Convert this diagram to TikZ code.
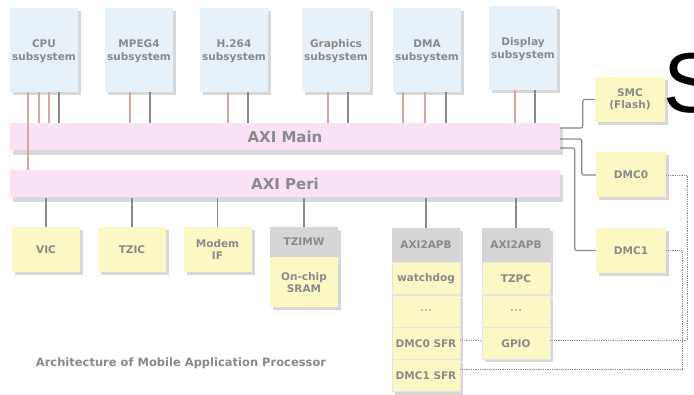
\documentclass[tikz,border=0pt]{standalone}
\usepackage{fontspec}
\setmainfont{DejaVu Sans}
\newfontfamily\bigfont{Liberation Sans}
\usetikzlibrary{positioning,shadows}

\definecolor{subblue}{HTML}{E6F1FA}
\definecolor{buspink}{HTML}{FAE2F6}
\definecolor{periyellow}{HTML}{FBF8C6}
\definecolor{bridgegray}{HTML}{D6D6D6}
\definecolor{labelgray}{HTML}{8A8A8A}
\definecolor{linkgray}{HTML}{8A8A8A}
\definecolor{linkred}{HTML}{DBA5A5}

% two-line subsystem label, set a little below the middle
\newcommand{\subtext}[1]{\mbox{}\\[-2pt]#1\\subsystem}

\tikzset{
  box/.style={minimum width=68pt, minimum height=45pt, inner sep=1pt, align=center,
    text=labelgray, font=\bfseries\fontsize{10.5}{12.5}\selectfont,
    drop shadow={shadow xshift=3pt, shadow yshift=-3pt, fill=black!60, opacity=0.25}},
  sub node/.style={box, fill=subblue, minimum height=84pt},
  peri node/.style={box, fill=periyellow},
  bridge node/.style={box, fill=bridgegray, minimum height=34pt},
  cell node/.style={box, fill=periyellow, draw=black!10, minimum height=32pt},
  bus node/.style={minimum width=550pt, minimum height=27pt, inner sep=0pt, fill=buspink,
    text=labelgray, font=\bfseries\fontsize{15}{17}\selectfont,
    drop shadow={shadow xshift=3pt, shadow yshift=-5pt, fill=black!60, opacity=0.25}},
  link/.style={draw=linkgray, line width=1.2pt},
  red link/.style={draw=linkred, line width=1.2pt},
  dot link/.style={draw=linkgray, densely dotted, line width=0.8pt},
}

\begin{document}
\begin{tikzpicture}[x=1pt,y=-1pt]
  \fill[white] (0,0) rectangle (694,395);
  \useasboundingbox (0,0) rectangle (694,395);

  % subsystems
  \node[sub node] (cpu)  at (44,50)  {\subtext{CPU}};
  \node[sub node] (mpeg) at (139,50) {\subtext{MPEG4}};
  \node[sub node] (h264) at (234,50) {\subtext{H.264}};
  \node[sub node] (gfx)  at (336,50) {\subtext{Graphics}};
  \node[sub node] (dma)  at (427,50) {\subtext{DMA}};
  \node[sub node] (disp) at (523,48) {\subtext{Display}};

  % buses
  \node[bus node] (axim) at (285,136.5) {AXI Main};
  \node[bus node] (axip) at (285,184)   {AXI Peri};

  % memory controllers
  \node[peri node, minimum width=70pt] (smc)  at (630,99.5)  {SMC\\(Flash)};
  \node[peri node, minimum width=70pt] (dmc0) at (631,175)   {DMC0};
  \node[peri node, minimum width=70pt] (dmc1) at (631,250.5) {DMC1};

  % peripherals
  \node[peri node] (vic)   at (46,249.5)    {VIC};
  \node[peri node] (tzic)  at (132,249.5)   {TZIC};
  \node[peri node] (modem) at (217.5,249.5) {Modem\\IF};
  \node[bridge node, minimum height=30pt] (tzimw) at (304,242) {TZIMW};
  \node[peri node, minimum height=50pt] (sram) [below=0pt of tzimw] {On-chip\\SRAM};

  \node[bridge node] (apb1) at (426,245) {AXI2APB};
  \node[cell node] (wdog)    [below=0pt of apb1] {watchdog};
  \node[cell node, text=black!30] (dots1) [below=0pt of wdog] {...};
  \node[cell node] (dmc0sfr) [below=0pt of dots1] {DMC0 SFR};
  \node[cell node] (dmc1sfr) [below=0pt of dmc0sfr] {DMC1 SFR};

  \node[bridge node] (apb2) at (516,245) {AXI2APB};
  \node[cell node] (tzpc)  [below=0pt of apb2] {TZPC};
  \node[cell node, text=black!30] (dots2) [below=0pt of tzpc] {...};
  \node[cell node] (gpio)  [below=0pt of dots2] {GPIO};

  % masters to AXI Main
  \foreach \n/\r/\g in {mpeg/-9/11, h264/-6/14, gfx/-8/12, disp/-8/12} {
    \draw[red link] ([xshift=\r pt]\n.south) -- ([xshift=\r pt]\n.south |- axim.north);
    \draw[link] ([xshift=\g pt]\n.south) -- ([xshift=\g pt]\n.south |- axim.north);
  }
  \foreach \r in {-5,5}
    \draw[red link] ([xshift=\r pt]cpu.south) -- ([xshift=\r pt]cpu.south |- axim.north);
  \draw[link] ([xshift=15pt]cpu.south) -- ([xshift=15pt]cpu.south |- axim.north);
  \draw[red link] ([xshift=-16pt]cpu.south) -- ([xshift=-16pt]cpu.south |- axip.north);
  \foreach \r in {-24,-2}
    \draw[red link] ([xshift=\r pt]dma.south) -- ([xshift=\r pt]dma.south |- axim.north);
  \draw[link] ([xshift=19pt]dma.south) -- ([xshift=19pt]dma.south |- axim.north);

  % AXI Main to memory controllers
  \draw[link, rounded corners=2pt] ([yshift=8.5pt]axim.east) -| ([xshift=-12pt]smc.west) -- (smc.west);
  \draw[link, rounded corners=2pt] ([yshift=-2.5pt]axim.east) -| ([xshift=-14pt]dmc0.west) -- (dmc0.west);
  \draw[link, rounded corners=2pt] ([yshift=-11.5pt]axim.east) -| ([xshift=-21pt]dmc1.west) -- (dmc1.west);

  % AXI Peri to slaves
  \foreach \n in {vic,tzic,modem,tzimw,apb1,apb2}
    \draw[link] (\n.north) -- (\n.north |- axip.south);

  % SFR links
  \draw[dot link] ([yshift=3pt]dmc0sfr.east) -- ([yshift=3pt]gpio.west);
  \draw[dot link] (dmc0.east) -- ++(21,0) |- ([yshift=3pt]gpio.east);
  \draw[dot link] (dmc1.east) -- ++(16,0) |- ([yshift=6pt]dmc1sfr.east);

  \node[text=labelgray, font=\bfseries\fontsize{11.5}{13}\selectfont] (caption) at (181,363)
    {Architecture of Mobile Application Processor};
  \node[anchor=base west, inner sep=0pt, font=\bigfont\fontsize{85}{85}\selectfont] (bigS) at (663,113) {S};
\end{tikzpicture}
\end{document}
